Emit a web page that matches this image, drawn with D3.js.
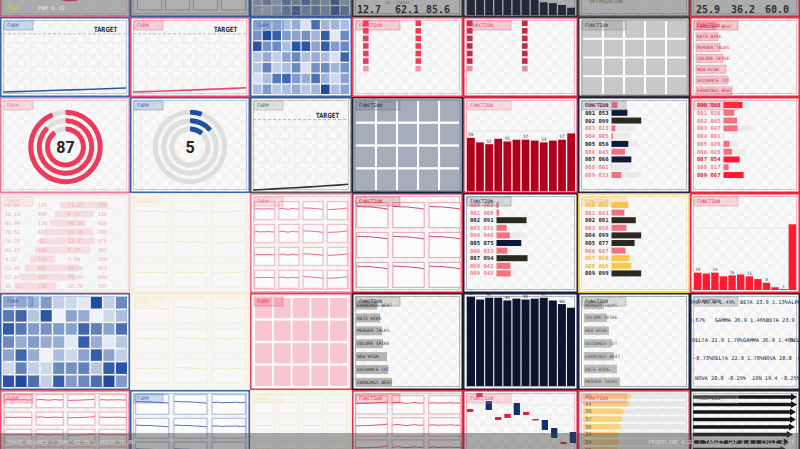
<!DOCTYPE html>
<html><head><meta charset="utf-8">
<script src="https://cdn.jsdelivr.net/npm/d3@7"></script>
<style>html,body{margin:0;padding:0;background:#fff;overflow:hidden}svg{display:block}</style>
</head><body><script>
// ================= DATA =================
const lineBlueVals = [4.4,5.0,5.6,6.2,6.9,7.5,8.1,8.8,9.5,10.3];
const lineRedVals  = [4.5,5.0,5.6,6.3,6.9,7.6,8.3,9.0,9.8,10.6];
const lineGreyVals = [1.2,1.8,2.5,3.2,3.9,4.6,5.4,6.2,7.0,8.0];
const lineTargets  = [90, 90, 85];
const targetText = "TARGET";

const heatTopRows = [
  [0.35,0.5,0.3,0.6,0.45,0.7,0.5,0.4,0.8,0.35],
  [0.3,0.25,0.35,0.55,0.75,0.5,0.6,0.45,0.8,0.6]
];
const heatUpper = [
  [0.35,0.35,0.35,0.3,0.4,0.1,0.75,0.35,0.35,0.3],
  [0.55,0.95,0.85,0.5,0.45,0.55,0.35,0.85,0.05,0.6],
  [0.9,0.55,0.6,0.3,0.9,0.9,0.45,0.85,0.5,0.6],
  [0.25,0.4,0.2,0.45,0.6,0.3,0.4,0.3,0.1,0.8],
  [0.25,0.65,0.2,0.3,0.6,0.1,0.55,0.6,0.35,0.55],
  [0.1,0.3,0.7,0.8,0.5,0.4,0.75,0.35,0.15,0.45],
  [0.3,0.5,0.25,0.3,0.4,0.25,0.35,0.95,0.3,0.45]
];
const heatLower = [
  [0.3,0.3,0.35,0.5,0.2,0.15,0.05,0.95,0.2,0.6],
  [0.7,0.8,0.25,0.9,0.0,0.45,0.4,0.0,0.15,0.3],
  [0.85,0.7,0.5,0.55,0.5,0.45,0.8,0.65,0.45,0.75],
  [0.6,0.4,0.5,0.4,0.4,0.05,0.85,0.4,0.05,0.25],
  [0.45,0.8,0.4,0.0,0.3,0.15,0.45,0.85,0.45,0.2],
  [0.15,0.65,0.2,0.15,0.6,0.55,0.65,0.25,0.85,0.9],
  [0.9,0.95,0.75,0.2,0.85,0.5,0.6,0.75,0.95,0.5]
];

const unitColsPink    = [6.5,0,6.5,0];
const unitColsCrimson = [6.5,0,6.5,0];

const gridGreyVals  = [1,1,1,1,1, 1,1,1,1,1, 1,1,1,1,1, 1,1,1,1,1];
const gridSlateVals = [1,1,1,1,1, 1,1,1,1,1, 1,1,1,1,1, 1,1,1,1,1];
const gridPinkVals  = [1,1,1,1,1, 1,1,1,1,1, 1,1,1,1,1, 1,1,1,1,1];

const eventLabelsA = ["EARNINGS BEAT","RATE HIKE","MERGER TALKS","VOLUME SPIKE","NEW HIGH","GUIDANCE CUT","EARNINGS BEAT"];
const eventValsA   = [20,22,24,27,30,32,36];
const eventLabelsB = ["EARNINGS BEAT","RATE HIKE","MERGER TALKS","VOLUME SPIKE","NEW HIGH","GUIDANCE CUT","EARNINGS BEAT"];
const eventValsB   = [21,24,26,27,31,32,36];
const eventLabelsC = ["MERGER TALKS","VOLUME SPIKE","NEW HIGH","GUIDANCE CUT","EARNINGS BEAT","RATE HIKE","MERGER TALKS"];
const eventValsC   = [20,23,25,28,30,33,36];

const gaugeRedVals  = [0.94,0.88,0.90];
const gaugeRedLabel = "87";
const gaugeBlueVals = [0.055,0.14,0.115];
const gaugeBlueLabel = "5";

const crimsonBars = [59,54,52,58,55,57,57,56,54,56,57,64];
const redBars     = [19,18,19,15,16,17,15,12,8,3,1,72];
const navyBars    = [98,95,97,97,94,96,95,96,97,94,90,86];
const navyTopBars = [96,95,97,96,95,97,96,95,14,13,11,8];

const listNavyVals  = [20,53,99,13,5,56,45,66,1,33];
const listNavyState = ["pink","navy","dark","pink","pink","navy","pink","navy","pink","pink"];
const listNavyTrack = [0,0,0,76,65,87,0,0,65,99];
const listRedVals   = [63,36,45,47,1,20,28,54,17,67];
const listRedState  = ["hot","pink","pink","pink","pink","pink","pink","hot","pink","hot"];
const listRedTrack  = [85,0,0,100,0,50,77,0,0,0];
const listMixVals   = [6,8,91,31,40,75,33,94,42,43];
const listMixState  = ["pink","pink","dark","pink","pink","navy","pink","dark","pink","pink"];
const listMixTrack  = [0,0,0,0,91,0,0,0,0,60];
const listGoldVals  = [56,43,81,50,99,77,47,60,66,99];
const listGoldState = ["gold","pink","dark","pink","dark","dark","pink","gold","gold","dark"];
const listGoldTrack = [0,0,0,0,0,0,0,75,0,0];

const tableColA = [60.88,18.14,83.00,74.51,78.75,91.67,4.22,22.40,53.47,49.35];
const tableColB = [132,999,139,616,651,448,245,825,437,531];
const tableColC = [51.13,4.33,99.19,83.39,12.37,5.97,5.60,49.80,59.99,26.70];
const tableColD = [776,516,434,789,979,982,150,923,998,587];

const sparkMid      = [6.0,6.2,5.9,6.1,6.0,6.2,5.9,6.0];
const sparkWave     = [6.0,6.4,6.1,5.8,6.0,6.3,5.9,6.1];
const sparkMidRise  = [5.6,5.7,5.8,5.8,6.0,6.1,6.3,6.5];
const sparkMidFall  = [6.6,6.5,6.4,6.4,6.2,6.1,5.9,5.7];
const sparkHighFall = [8.6,8.5,8.4,8.4,8.2,8.0,7.8,7.5];

const candleOpen  = [33,48,44,25,27,42,30,25,25,17,1,13];
const candleClose = [36,52,35,28,31,30,33,26,15,7,3,2];

const arrowVals      = [45,44,39,37,36,34,34,33];
const blackArrowVals = [100,100,99,99,98,96,93,90];

const tickerNames = ["ALPHA","BETA","GAMMA","DELTA","OMEGA","NOVA","ION","SIGMA"];
const tickerPrice = ["25.9","23.9","26.9","22.9","21.0","20.0","19.4","24.1"];
const tickerChg   = ["1.49%","1.13%","1.46%","1.70%","-0.73%","-0.25%","-0.25%","0.67%"];

const kpiTopA = ["12.7","62.1","85.6"];
const kpiTopB = ["25.9","36.2","60.0"];
const topLeftTag = "FORM";
const topLeftText = "PWR 0.22";
const bottomLeftText = "PHASE ADVANCE | DOM -62.5% | PRESS 76.0%";
const bottomRightText = "FRONTLINE 0.22 | TARGET GAP 0.4 | CYCLE 4.8f";

// ================= LAYOUT =================
const W = 800, H = 449;
const COLS = [0,130,250,352,463,578,690,800];
const ROWS = [-80,17,97,193,293,390,487];
const MONO = "'DejaVu Sans Mono', monospace";

const svg = d3.select('body').append('svg').attr('width', W).attr('height', H);
const defs = svg.append('defs');
const pat = defs.append('pattern').attr('id','chk').attr('width',12).attr('height',12).attr('patternUnits','userSpaceOnUse');
pat.append('rect').attr('width',12).attr('height',12).attr('fill','#f9f9f9');
pat.append('rect').attr('width',6).attr('height',6).attr('fill','#f3f3f3');
pat.append('rect').attr('x',6).attr('y',6).attr('width',6).attr('height',6).attr('fill','#f3f3f3');
svg.append('rect').attr('width',W).attr('height',H).attr('fill','#f6f6f6');

function makePanel(r, c, color, o = {}) {
  const x0 = COLS[c], x1 = COLS[c+1], y0 = ROWS[r], y1 = ROWS[r+1];
  const id = 'cp' + r + '_' + c;
  defs.append('clipPath').attr('id', id).append('rect').attr('x', x0).attr('y', y0).attr('width', x1-x0).attr('height', y1-y0);
  const outer = svg.append('g').attr('opacity', o.fade ?? 1);
  const g = outer.append('g').attr('clip-path', `url(#${id})`);
  g.append('rect').attr('x', x0).attr('y', y0).attr('width', x1-x0).attr('height', y1-y0).attr('fill', 'url(#chk)');
  if (o.frame !== false) {
    g.append('rect').attr('x', x0+3.5).attr('y', y0+3.5).attr('width', x1-x0-7).attr('height', y1-y0-7)
      .attr('fill','none').attr('stroke', o.frameColor || color).attr('stroke-opacity', o.frameOpacity ?? 0.3).attr('stroke-width', 1);
  }
  const content = g.append('g');
  const top = g.append('g');
  g.append('rect').attr('x', x0+0.75).attr('y', y0+0.75).attr('width', x1-x0-1.5).attr('height', y1-y0-1.5)
    .attr('fill','none').attr('stroke', color).attr('stroke-width', 1.5);
  return {g: content, top, x0, x1, y0, y1, w: x1-x0, h: y1-y0, color};
}

function tag(p, label, color, textColor) {
  const w = label === 'FORM' ? 29 : 44;
  p.top.append('rect').attr('x', p.x0+4).attr('y', p.y0+4).attr('width', w).attr('height', 9)
    .attr('fill', color).attr('fill-opacity', 0.22).attr('stroke', color).attr('stroke-opacity', 0.45).attr('stroke-width', 0.8);
  p.top.append('text').attr('x', p.x0+7).attr('y', p.y0+10.4).text(label)
    .attr('font-family', MONO).attr('font-size', 4.8).attr('fill', textColor || color);
}

function lineChart(p, vals, target, color) {
  const x = d3.scaleLinear().domain([0, vals.length-1]).range([p.x0+3, p.x1-4]);
  const y = d3.scaleLinear().domain([0,100]).range([p.y1-2, p.y0+10]);
  const gx = d3.scaleLinear().domain([0,9]).range([p.x0+4, p.x1-4]);
  d3.range(1,9).forEach(i => p.g.append('line').attr('x1', gx(i)).attr('x2', gx(i)).attr('y1', p.y0+14).attr('y2', p.y1-4).attr('stroke','#ececec').attr('stroke-width',0.8));
  const gy = d3.scaleLinear().domain([0,6]).range([p.y1-7, p.y1-7-6*11.8]);
  d3.range(1,6).forEach(i => { const yy = gy(i); if (yy > p.y0+14) p.g.append('line').attr('x1', p.x0+4).attr('x2', p.x1-4).attr('y1', yy).attr('y2', yy).attr('stroke','#ececec').attr('stroke-width',0.8); });
  p.g.append('line').attr('x1', p.x0+3).attr('x2', p.x1-3).attr('y1', y(target)).attr('y2', y(target))
    .attr('stroke','#b8b8b8').attr('stroke-dasharray','3,2').attr('stroke-width',1);
  p.g.append('text').attr('x', p.x1-13).attr('y', y(target)-1.8).attr('text-anchor','end').text(targetText)
    .attr('font-family','DejaVu Sans, sans-serif').attr('font-weight','bold').attr('font-size',7.2)
    .attr('textLength',23).attr('lengthAdjust','spacingAndGlyphs').attr('fill','#333');
  p.g.append('path').datum(vals).attr('d', d3.line().x((d,i)=>x(i)).y(d=>y(d)))
    .attr('fill','none').attr('stroke', color).attr('stroke-width',1.6);
}

const heatColor = d3.scaleLinear().domain([0,1]).range(['#eef2f9','#13449a']).interpolate(d3.interpolateRgb);
function heatmap(p, rows, area) {
  const nC = rows[0].length, nR = rows.length;
  const xb = d3.scaleBand().domain(d3.range(nC)).range([area[0], area[1]]).paddingInner(0.12);
  const yb = d3.scaleBand().domain(d3.range(nR)).range([area[2], area[3]]).paddingInner(0.12);
  rows.forEach((row, r) => row.forEach((v, c) => {
    p.g.append('rect').attr('x', xb(c)).attr('y', yb(r)).attr('width', xb.bandwidth()).attr('height', yb.bandwidth()).attr('fill', heatColor(v));
  }));
}

function units(p, vals, color, xr, top, step, size) {
  const xb = d3.scaleBand().domain(d3.range(vals.length)).range(xr);
  vals.forEach((v, i) => {
    const n = Math.floor(v), frac = v - n;
    d3.range(n).forEach(k => p.g.append('rect').attr('x', xb(i)).attr('y', top + k*step).attr('width', size).attr('height', size).attr('fill', color));
    if (frac > 0) p.g.append('rect').attr('x', xb(i)).attr('y', top + n*step).attr('width', size).attr('height', size).attr('fill', color).attr('opacity', 0.5);
  });
}

function flatGrid(p, vals, nC, nR, area, fill, frame) {
  const shade = d3.scaleLinear().domain([0,1]).range(['#ffffff', fill]);
  const xb = d3.scaleBand().domain(d3.range(nC)).range([area[0]+1, area[1]-1]).paddingInner(0.1);
  const yb = d3.scaleBand().domain(d3.range(nR)).range([area[2]+1, area[3]-1]).paddingInner(0.1);
  p.g.append('rect').attr('x', area[0]).attr('y', area[2]).attr('width', area[1]-area[0]).attr('height', area[3]-area[2]).attr('fill','#fff');
  vals.forEach((v, i) => {
    const c = i % nC, r = Math.floor(i / nC);
    p.g.append('rect').attr('x', xb(c)).attr('y', yb(r)).attr('width', xb.bandwidth()).attr('height', yb.bandwidth()).attr('fill', shade(v));
  });
  if (frame) p.g.append('rect').attr('x', area[0]).attr('y', area[2]).attr('width', area[1]-area[0]).attr('height', area[3]-area[2]).attr('fill','none').attr('stroke', frame).attr('stroke-width', 1.2);
}

function eventBars(p, labels, vals, o) {
  const x = d3.scaleLinear().domain([0,100]).range([0,100]);
  labels.forEach((l, i) => {
    const cy = o.y0 + i*o.step;
    p.g.append('rect').attr('x', o.x).attr('y', cy - o.barH/2).attr('width', x(vals[i])).attr('height', o.barH)
      .attr('fill', o.fill).attr('fill-opacity', o.op ?? 1).attr('stroke', o.stroke || 'none').attr('stroke-opacity', 0.4).attr('stroke-width', 0.6);
    p.g.append('text').attr('x', o.x+1).attr('y', cy+1.6).text(l).attr('font-family', MONO).attr('font-size', 4.5).attr('fill', o.text);
  });
}

function gauge(p, vals, color, label, cx, cy) {
  const radii = [34.7, 26.3, 18];
  radii.forEach((r, i) => {
    p.g.append('circle').attr('cx', cx).attr('cy', cy).attr('r', r).attr('fill','none').attr('stroke','#dedede').attr('stroke-width', 5);
    const arc = d3.arc().innerRadius(r-2.5).outerRadius(r+2.5).startAngle(0).endAngle(2*Math.PI*vals[i]).cornerRadius(1.2);
    p.g.append('path').attr('d', arc()).attr('transform', `translate(${cx},${cy})`).attr('fill', color);
  });
  if (label) p.g.append('text').attr('x', cx).attr('y', cy+5.8).attr('text-anchor','middle').text(label)
    .attr('font-family','Roboto, sans-serif').attr('font-weight','bold').attr('font-size', 16).attr('fill','#222');
}

function barChart(p, vals, color, xr, yr, ymax, labelColor, pad) {
  const x = d3.scaleBand().domain(d3.range(vals.length)).range(xr).paddingInner(pad ?? 0.14);
  const y = d3.scaleLinear().domain([0, ymax]).range(yr);
  p.g.selectAll(null).data(vals).join('rect').attr('x', (d,i)=>x(i)).attr('y', d=>y(d)).attr('width', x.bandwidth()).attr('height', d=>y(0)-y(d)).attr('fill', color);
  if (labelColor) p.g.selectAll(null).data(vals).join('text').filter((d,i)=>i%2===0 && i<vals.length-1)
    .attr('x', (d,i)=>x(i*2)+x.bandwidth()/2).attr('y', d=>y(d)-1.5).attr('text-anchor','middle').text(d=>d)
    .attr('font-family', MONO).attr('font-size', 4.4).attr('fill', labelColor);
}

const STATE = {
  pink: {bar:'#f3707f', text:'#f07f8e'},
  navy: {bar:'#0e1a3a', text:'#0e1a3a'},
  dark: {bar:'#2a2a22', text:'#2a2a2a'},
  hot:  {bar:'#ff1a2e', text:'#e6142c'},
  gold: {bar:'#f8c64e', text:'#f2b63a'}
};
function listPanel(p, vals, states, tracks, y0, step, scaleMax) {
  const x = d3.scaleLinear().domain([0,100]).range([0, scaleMax]);
  const bx = p.x0 + 33.5;
  vals.forEach((v, i) => {
    const cy = p.y0 + y0 + i*step, s = STATE[states[i]];
    if (tracks[i] > 0) p.g.append('rect').attr('x', bx).attr('y', cy-3).attr('width', x(tracks[i])).attr('height', 6).attr('fill','#ebebeb');
    p.g.append('rect').attr('x', bx).attr('y', cy-3).attr('width', x(v)).attr('height', 6).attr('fill', s.bar);
    p.g.append('text').attr('x', p.x0+7).attr('y', cy+2).text(String(i).padStart(3,'0') + ' ' + String(v).padStart(3,'0'))
      .attr('font-family', MONO).attr('font-weight','bold').attr('font-size', 5.6).attr('fill', s.text);
  });
}

function sparkGrid(p, nC, nR, area, shapes, color, padX, padY) {
  const xb = d3.scaleBand().domain(d3.range(nC)).range([area[0], area[1]]).paddingInner(padX ?? 0.12);
  const yb = d3.scaleBand().domain(d3.range(nR)).range([area[2], area[3]]).paddingInner(padY ?? 0.15);
  d3.range(nR).forEach(r => d3.range(nC).forEach(c => {
    const bx = xb(c), by = yb(r), bw = xb.bandwidth(), bh = yb.bandwidth();
    p.g.append('rect').attr('x', bx+0.6).attr('y', by+0.6).attr('width', bw-1.2).attr('height', bh-1.2)
      .attr('fill','#fbfbfb').attr('stroke', color).attr('stroke-opacity', 0.35).attr('stroke-width', 1.2);
    const data = shapes[(r*nC + c) % shapes.length];
    const x = d3.scaleLinear().domain([0, data.length-1]).range([bx+1, bx+bw-1]);
    const y = d3.scaleLinear().domain([0,10]).range([by+bh-1, by+1]);
    p.g.append('path').datum(data).attr('d', d3.line().x((d,i)=>x(i)).y(d=>y(d)))
      .attr('fill','none').attr('stroke', color).attr('stroke-width', 1).attr('stroke-opacity', 0.85);
  }));
}

// ================= ROW 0 (behind top bar) =================
let p;
p = makePanel(0,0,'#f07890');
gauge(p, gaugeRedVals, '#f0405e', '', 70, -36);
p = makePanel(0,1,'#3563b0');
sparkGrid(p, 4, 1, [137,246,-45,15], [sparkMid, sparkWave, sparkMidFall, sparkMidRise], '#3563b0', 0.1);
p = makePanel(0,2,'#3563b0');
heatmap(p, heatTopRows, [253,349,-4,15]);
p = makePanel(0,3,'#222');
[357,395,426].forEach((xx,i) => p.g.append('text').attr('x', xx).attr('y', 13).text(kpiTopA[i]).attr('font-family', MONO).attr('font-weight','bold').attr('font-size', 10).attr('fill','#1a1a1a'));
p.g.append('text').attr('x', 384).attr('y', 4).text('-62.1 TARGET').attr('font-family', MONO).attr('font-size', 3.6).attr('fill','#777');
p = makePanel(0,4,'#1a2440');
barChart(p, navyTopBars, '#0b1530', [467,575], [15,-76], 100, null, 0.14);
p = makePanel(0,5,'#555');
p.g.append('text').attr('x', 590).attr('y', 3).text('OPTIMIZATION').attr('font-family', MONO).attr('font-size', 4.5).attr('fill','#666');
p = makePanel(0,6,'#e8304a');
[696,731,765].forEach((xx,i) => p.g.append('text').attr('x', xx).attr('y', 13).text(kpiTopB[i]).attr('font-family', MONO).attr('font-weight','bold').attr('font-size', 10).attr('fill','#1a1a1a'));

// ================= ROW 1 =================
p = makePanel(1,0,'#3563b0'); tag(p,'FORM','#3563b0'); lineChart(p, lineBlueVals, lineTargets[0], '#2d5bab');
p = makePanel(1,1,'#f0466a'); tag(p,'FORM','#f0466a'); lineChart(p, lineRedVals, lineTargets[1], '#f0466a');
p = makePanel(1,2,'#3563b0'); heatmap(p, heatUpper, [253,349,20,94]); tag(p,'FORM','#3563b0');
p = makePanel(1,3,'#f0405e'); units(p, unitColsPink, '#f23a58', [363,468], 20.5, 7.55, 5.6); tag(p,'FUNCTION','#f0405e');
p = makePanel(1,4,'#e0203e'); units(p, unitColsCrimson, '#c42a4a', [467,577], 20.5, 7.55, 5.6); tag(p,'FUNCTION','#e0406a');
p = makePanel(1,5,'#333', {frame:false}); flatGrid(p, gridGreyVals, 5, 4, [582,687,20,95], '#c8c8c8', '#8a8a8a'); tag(p,'FUNCTION','#777','#333');
p = makePanel(1,6,'#e8304a');
eventBars(p, eventLabelsA, eventValsA, {x:696, y0:26, step:10.8, barH:8, fill:'#f08898', op:0.45, stroke:'#e8304a', text:'#c8304a'});
tag(p,'FUNCTION','#e8304a','#c8304a');

// ================= ROW 2 =================
p = makePanel(2,0,'#f07890'); tag(p,'FORM','#f07890'); gauge(p, gaugeRedVals, '#ef3a5d', gaugeRedLabel, 65.5, 147);
p = makePanel(2,1,'#3563b0'); tag(p,'FORM','#3563b0'); gauge(p, gaugeBlueVals, '#1f4fa0', gaugeBlueLabel, 190, 147);
p = makePanel(2,2,'#555'); tag(p,'FORM','#888','#666'); lineChart(p, lineGreyVals, lineTargets[2], '#333');
p = makePanel(2,3,'#1a2440', {frame:false}); flatGrid(p, gridSlateVals, 5, 4, [355,460,100,191], '#a6acb9', '#5a6070'); tag(p,'FUNCTION','#5a6070','#1a2440');
p = makePanel(2,4,'#d42040');
p.g.append('line').attr('x1',467).attr('x2',575).attr('y1',131).attr('y2',131).attr('stroke','#e6e6e6');
barChart(p, crimsonBars, '#b0001e', [467,575], [191,128], 70, '#444', 0.15);
tag(p,'FUNCTION','#f07890','#e05070');
p = makePanel(2,5,'#1a2440'); listPanel(p, listNavyVals, listNavyState, listNavyTrack, 8, 7.78, 30); tag(p,'FUNCTION','#5a6478','#1a2440');
p = makePanel(2,6,'#f0203a'); listPanel(p, listRedVals, listRedState, listRedTrack, 8, 7.78, 30); tag(p,'FUNCTION','#f06070','#e0304a');

// ================= ROW 3 =================
p = makePanel(3,0,'#f090a8', {fade:0.45}); 
{
  const wScale = d3.scaleLinear().domain([0,1000]).range([20,56]);
  tableColA.forEach((v,i) => {
    const yy = 207 + i*9;
    p.g.append('rect').attr('x', 60 - 5*i).attr('y', yy-5.5).attr('width', wScale(tableColD[i])).attr('height', 7).attr('fill','#f4a0b0').attr('opacity',0.6);
    [[5, v.toFixed(2)], [38, tableColB[i]], [68, tableColC[i].toFixed(2)], [98, tableColD[i]]].forEach(([xx,t]) =>
      p.g.append('text').attr('x', xx).attr('y', yy).text(t).attr('font-family', MONO).attr('font-size', 5).attr('fill','#e04a6a'));
  });
}
tag(p,'FORM','#f07890');
p = makePanel(3,1,'#f5d27a', {fade:0.3}); sparkGrid(p, 3, 3, [133,246,201,288], [sparkMid, sparkWave, sparkMidRise], '#f0c040'); tag(p,'FORM','#f0c040');
p = makePanel(3,2,'#f07090'); sparkGrid(p, 4, 4, [254,348,201,289], [sparkMid, sparkWave, sparkMidFall, sparkMidRise], '#e8506e', 0.12, 0.16); tag(p,'FORM','#f07090');
p = makePanel(3,3,'#c02040'); sparkGrid(p, 3, 3, [356,461,202,288], [sparkHighFall], '#c8284a', 0.1, 0.12); tag(p,'FUNCTION','#c02040');
p = makePanel(3,4,'#1a2440'); listPanel(p, listMixVals, listMixState, listMixTrack, 12, 7.6, 33); tag(p,'FUNCTION','#5a6478','#1a2440');
p = makePanel(3,5,'#f0c040'); listPanel(p, listGoldVals, listGoldState, listGoldTrack, 12, 7.6, 30); tag(p,'FUNCTION','#f0c040','#f0b030');
p = makePanel(3,6,'#ff2040');
p.g.append('line').attr('x1',694).attr('x2',796).attr('y1',228).attr('y2',228).attr('stroke','#e6e6e6');
barChart(p, redBars, '#ff1a30', [694,796], [290,217], 80, '#555', 0.14);
tag(p,'FUNCTION','#f06070','#e03050');

// ================= ROW 4 =================
p = makePanel(4,0,'#3563b0'); heatmap(p, heatLower, [3,127,297,387]); tag(p,'FORM','#3563b0');
p = makePanel(4,1,'#f5d27a', {fade:0.3}); sparkGrid(p, 3, 3, [135,246,298,384], [sparkMid, sparkMidFall, sparkWave], '#f0c040'); tag(p,'FORM','#f0c040');
p = makePanel(4,2,'#e8405a', {frame:false}); flatGrid(p, gridPinkVals, 5, 4, [254,348,297,387], '#f8c6d0', null); tag(p,'FORM','#e8405a');
p = makePanel(4,3,'#222'); eventBars(p, eventLabelsB, eventValsB, {x:356, y0:305, step:12.9, barH:9, fill:'#b4b4b4', text:'#333'}); tag(p,'FUNCTION','#666','#222');
p = makePanel(4,4,'#1a2440'); barChart(p, navyBars, '#0b1530', [467,575], [386,295], 100, '#333', 0.12);
p = makePanel(4,5,'#1a2440', {frameColor:'#999', frameOpacity:0.8}); eventBars(p, eventLabelsC, eventValsC, {x:584, y0:305, step:12.8, barH:8.5, fill:'#bcbcbc', text:'#555'}); tag(p,'FUNCTION','#777','#333');
p = makePanel(4,6,'#1a2440', {frameColor:'#999', frameOpacity:0.6});
{
  const rowsLayout = [
    [[0,684],[1,740],[0,788]],
    [[7,654],[2,715],[1,766]],
    [[3,692],[2,743],[3,790]],
    [[4,658],[3,712],[5,763]],
    [[5,695],[6,752]]
  ];
  const rowY = [304, 322, 342, 360, 380];
  rowsLayout.forEach((row, r) => row.forEach(([k, xx]) => {
    p.g.append('text').attr('x', xx).attr('y', rowY[r]).text(`${tickerNames[k]} ${tickerPrice[k]} ${tickerChg[k]}`)
      .attr('font-family', MONO).attr('font-size', 5.3).attr('fill','#1a2440');
  }));
}
tag(p,'FUNCTION','#6a7080','#1a2440');

// ================= ROW 5 =================
p = makePanel(5,0,'#f05070'); sparkGrid(p, 4, 5, [4,127,394,478], [sparkMid, sparkWave, sparkMidRise, sparkMid], '#ef3a5d', 0.1, 0.18); tag(p,'FORM','#f05070');
p = makePanel(5,1,'#3563b0'); sparkGrid(p, 3, 4, [135,246,394,486], [sparkMidFall, sparkMidFall, sparkMid], '#2d5bab', 0.1, 0.12); tag(p,'FORM','#3563b0');
p = makePanel(5,2,'#f5d27a', {fade:0.3}); sparkGrid(p, 4, 4, [254,348,394,484], [sparkMid, sparkWave], '#f0c040'); tag(p,'FORM','#f0c040');
p = makePanel(5,3,'#e8304a'); sparkGrid(p, 3, 4, [355,461,395,481], [sparkMidRise, sparkWave, sparkMid], '#e8304a', 0.1, 0.12); tag(p,'FUNCTION','#e8304a');
p = makePanel(5,4,'#d42040');
{
  const x = d3.scaleBand().domain(d3.range(candleOpen.length)).range([467,576]).paddingInner(0.33);
  const y = d3.scaleLinear().domain([0,60]).range([445,385]);
  y.ticks(8).forEach(t => p.g.append('line').attr('x1',467).attr('x2',575).attr('y1',y(t)).attr('y2',y(t)).attr('stroke','#ececec'));
  candleOpen.forEach((o,i) => {
    const c = candleClose[i];
    p.g.append('rect').attr('x', x(i)).attr('y', y(Math.max(o,c))).attr('width', x.bandwidth())
      .attr('height', Math.max(1.5, Math.abs(y(o)-y(c)))).attr('fill', c > o ? '#e01e3c' : '#0f2f6e');
  });
}
tag(p,'FUNCTION','#f07890','#e05070');
p = makePanel(5,5,'#e8304a');
{
  const x = d3.scaleLinear().domain([0,100]).range([0,108]);
  arrowVals.forEach((v,i) => {
    const cy = 396 + i*7.7, xe = 583 + x(v);
    p.g.append('rect').attr('x',583).attr('y',cy-2.8).attr('width',104).attr('height',5.6).attr('fill','#e6e6e6');
    p.g.append('polygon').attr('points', `583,${cy-2.8} ${xe-3},${cy-2.8} ${xe},${cy} ${xe-3},${cy+2.8} 583,${cy+2.8}`).attr('fill','#f9d27a');
    p.g.append('text').attr('x',585).attr('y',cy+1.9).text(v).attr('font-family',MONO).attr('font-size',5.3).attr('fill','#555');
  });
}
tag(p,'FUNCTION','#f07890','#e05070');
p = makePanel(5,6,'#222');
{
  const x = d3.scaleLinear().domain([0,100]).range([0,104]);
  blackArrowVals.forEach((v,i) => {
    const cy = 397 + i*7.5, xe = 693 + x(v);
    p.g.append('polygon').attr('points', `693,${cy-1.8} ${xe-6},${cy-1.8} ${xe-6},${cy-3.4} ${xe},${cy} ${xe-6},${cy+3.4} ${xe-6},${cy+1.8} 693,${cy+1.8}`).attr('fill','#161616');
  });
}
tag(p,'FUNCTION','#ddd','#555');

// ================= OVERLAY BARS =================
svg.append('rect').attr('x',0).attr('y',0).attr('width',W).attr('height',16.5).attr('fill','rgba(70,70,70,0.42)');
svg.append('text').attr('x',7).attr('y',10).text(topLeftTag).attr('font-family',MONO).attr('font-size',5.6).attr('fill','#a4d448');
svg.append('text').attr('x',38).attr('y',10).text(topLeftText).attr('font-family',MONO).attr('font-size',5.6).attr('fill','#e4e4e4');
svg.append('rect').attr('x',0).attr('y',433).attr('width',W).attr('height',16).attr('fill','rgba(70,70,70,0.45)');
svg.append('text').attr('x',7).attr('y',444).text(bottomLeftText).attr('font-family',MONO).attr('font-size',5.3).attr('fill','#d8d8d8');
svg.append('text').attr('x',794).attr('y',444).attr('text-anchor','end').text(bottomRightText).attr('font-family',MONO).attr('font-size',5.5).attr('fill','#d8d8d8');
</script></body></html>
